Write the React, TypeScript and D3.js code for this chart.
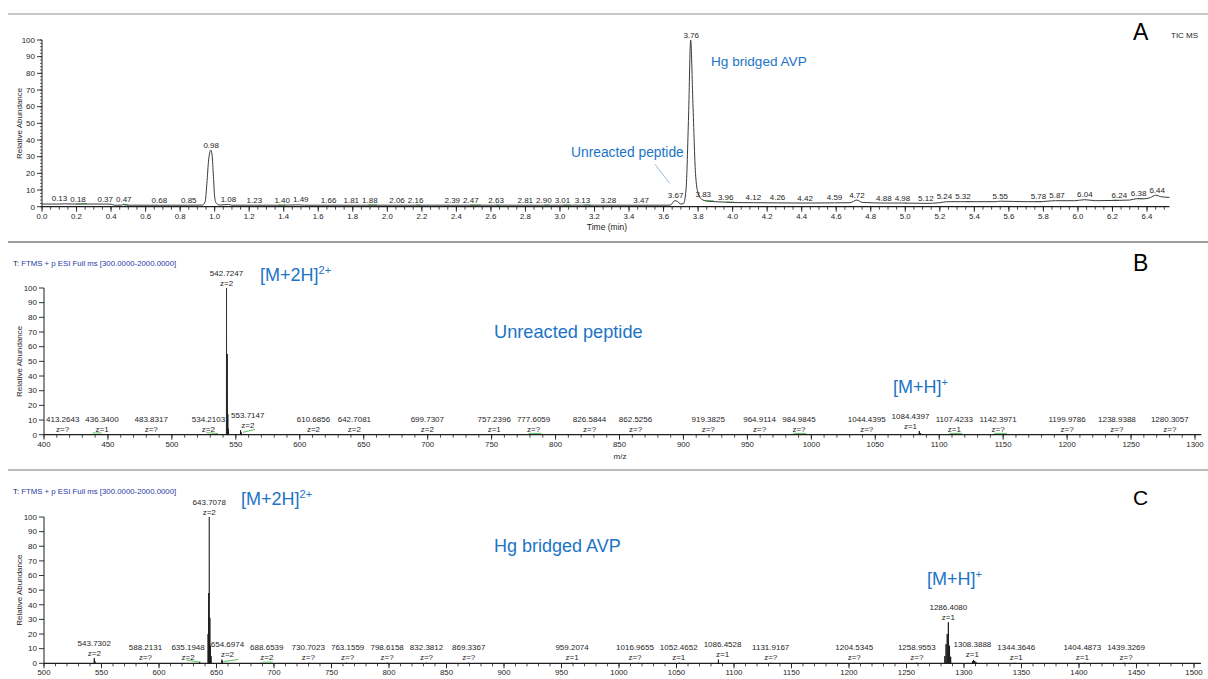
import React from "react";
import * as d3 from "d3";

const FONT = "'Liberation Sans', Arial, Helvetica, sans-serif";
const INK = "#1e1e1e";
const TRACE = "#3a3a3a";
const BLUE = "#1c74c7";
const GREEN = "#5cc05e";
const NAVY = "#2b38a6";

// ---------- Panel A: total ion chromatogram ----------
const ticTrace: [number, number][] = [
  [0.0, 1.6], [0.1, 1.6], [0.13, 1.7], [0.18, 1.6], [0.3, 1.6], [0.37, 1.6], [0.4, 1.5],
  [0.42, 0.9], [0.46, 0.9], [0.47, 1.3], [0.49, 0.9], [0.68, 0.9], [0.85, 0.9], [0.93, 1.0],
  [0.945, 3], [0.955, 14], [0.965, 28], [0.978, 34], [0.985, 31], [0.993, 18], [1.0, 6],
  [1.01, 2], [1.03, 1.0], [1.08, 1.3], [1.1, 0.9], [1.23, 0.9], [1.4, 0.9], [1.49, 1.1],
  [1.52, 0.9], [3.62, 0.9], [3.64, 1.0], [3.665, 3.6], [3.68, 3.2], [3.7, 1.6], [3.715, 1.8],
  [3.73, 10], [3.745, 55], [3.757, 100], [3.77, 62], [3.785, 20], [3.8, 8], [3.82, 4.5],
  [3.85, 3.4], [3.9, 3.0], [3.96, 2.7], [4.0, 2.5], [4.12, 2.4], [4.26, 2.3], [4.42, 2.2],
  [4.59, 2.3], [4.68, 2.4], [4.72, 4.0], [4.75, 2.6], [4.88, 2.2], [4.98, 2.2], [5.12, 2.0],
  [5.2, 2.4], [5.24, 3.0], [5.45, 3.0], [5.52, 3.0], [5.55, 3.3], [5.7, 3.0], [5.78, 3.0],
  [5.82, 3.3], [5.87, 3.6], [5.98, 3.6], [6.04, 4.2], [6.1, 3.6], [6.24, 3.8], [6.3, 4.0],
  [6.34, 4.8], [6.38, 4.7], [6.42, 5.5], [6.45, 6.9], [6.48, 6.0], [6.53, 5.6],
];
const ticPeakRt = [
  "0.13", "0.18", "0.37", "0.47", "0.68", "0.85", "0.98", "1.08", "1.23", "1.40", "1.49",
  "1.66", "1.81", "1.88", "2.06", "2.16", "2.39", "2.47", "2.63", "2.81", "2.90", "3.01",
  "3.13", "3.28", "3.47", "3.67", "3.76", "3.83", "3.96", "4.12", "4.26", "4.42", "4.59",
  "4.72", "4.88", "4.98", "5.12", "5.24", "5.32", "5.55", "5.78", "5.87", "6.04", "6.24",
  "6.38", "6.44",
];
const ticPeakLevel = [
  1.7, 1.6, 1.6, 1.3, 0.9, 0.9, 34, 1.3, 0.9, 0.9, 1.1,
  0.9, 0.9, 1.0, 0.9, 0.9, 0.9, 0.9, 0.9, 0.9, 0.9, 0.9,
  0.9, 0.9, 0.9, 3.6, 100, 4.5, 2.7, 2.4, 2.3, 2.2, 2.3,
  4.0, 2.2, 2.2, 2.0, 3.0, 3.0, 3.3, 3.0, 3.6, 4.2, 3.8,
  4.7, 6.9,
];
// integration baselines [start, end, level]
const ticBaselines: [number, number, number][] = [
  [0.2, 0.26, 1.8], [0.47, 0.5, 1.4], [1.37, 1.41, 1.0], [1.89, 1.94, 1.1], [2.17, 2.19, 1.0],
  [2.48, 2.54, 1.0], [2.63, 2.65, 1.0], [2.91, 2.94, 1.0], [3.02, 3.06, 1.0], [3.14, 3.18, 1.0],
  [3.84, 3.89, 3.6], [3.96, 4.01, 2.8], [5.0, 5.01, 2.2], [5.35, 5.39, 3.1], [5.75, 5.79, 3.1],
  [6.2, 6.24, 3.9], [6.34, 6.38, 4.9],
];
const timeTicks = [
  "0.0", "0.2", "0.4", "0.6", "0.8", "1.0", "1.2", "1.4", "1.6", "1.8", "2.0", "2.2", "2.4",
  "2.6", "2.8", "3.0", "3.2", "3.4", "3.6", "3.8", "4.0", "4.2", "4.4", "4.6", "4.8", "5.0",
  "5.2", "5.4", "5.6", "5.8", "6.0", "6.2", "6.4",
];
const abundanceTicks = [0, 10, 20, 30, 40, 50, 60, 70, 80, 90, 100];

// ---------- Panel B: MS of the unreacted peptide ----------
const specBMz = [
  "413.2643", "436.3400", "483.8317", "534.2103", "542.7247", "553.7147", "610.6856",
  "642.7081", "699.7307", "757.2396", "777.6059", "826.5844", "862.5256", "919.3825",
  "964.9114", "984.9845", "1044.4395", "1084.4397", "1107.4233", "1142.3971", "1199.9786",
  "1238.9388", "1280.3057",
];
const specBCharge = [
  "z=?", "z=1", "z=?", "z=2", "z=2", "z=2", "z=2", "z=2", "z=2", "z=1", "z=?", "z=?",
  "z=?", "z=?", "z=?", "z=?", "z=?", "z=1", "z=1", "z=?", "z=?", "z=?", "z=?",
];
const specBLevel = [
  0.4, 0.4, 0.3, 0.4, 100, 3, 0.4, 0.4, 0.3, 0.3, 0.3, 0.3, 0.3, 0.3, 0.3, 0.3, 0.3, 2.5,
  0.3, 0.3, 0.3, 0.3, 0.3,
];
const specBIsotopes: [number, number][] = [
  [543.22, 55], [543.72, 14], [544.22, 4], [554.21, 1.5], [1085.44, 1.0],
];
const specBBaselines: [number, number, number, number][] = [
  [438, 445, 1.2, 1.2], [527, 536, 1.4, 0.8], [555.5, 565, 1.6, 3.6], [779, 789, 0.9, 0.9],
  [986, 996, 0.9, 0.9], [1108, 1118, 0.9, 0.9], [1143, 1153, 0.9, 0.9],
];
const mzTicksB = [400, 450, 500, 550, 600, 650, 700, 750, 800, 850, 900, 950, 1000, 1050, 1100, 1150, 1200, 1250, 1300];

// ---------- Panel C: MS of the Hg bridged AVP ----------
const specCMz = [
  "543.7302", "588.2131", "635.1948", "643.7078", "654.6974", "688.6539", "730.7023",
  "763.1559", "798.6158", "832.3812", "869.3367", "959.2074", "1016.9655", "1052.4652",
  "1086.4528", "1131.9167", "1204.5345", "1258.9553", "1286.4080", "1308.3888",
  "1344.3646", "1404.4873", "1439.3269",
];
const specCCharge = [
  "z=2", "z=?", "z=2", "z=2", "z=2", "z=2", "z=?", "z=?", "z=?", "z=?", "z=?", "z=1",
  "z=?", "z=1", "z=1", "z=?", "z=?", "z=?", "z=1", "z=1", "z=1", "z=1", "z=?",
];
const specCLevel = [
  3.5, 0.3, 0.8, 100, 2.5, 0.3, 0.3, 0.3, 0.3, 0.3, 0.3, 0.3, 0.3, 0.3, 2.5, 0.3, 0.3,
  0.3, 28, 2.3, 0.3, 0.3, 0.3,
];
const specCIsotopes: [number, number][] = [
  [642.71, 20], [643.21, 48], [644.21, 31], [644.71, 12], [645.21, 5], [544.23, 1.5],
  [655.2, 1.2], [1283.41, 5], [1284.41, 13], [1285.41, 20], [1287.41, 12], [1288.41, 4.5],
  [1307.39, 1.5], [1309.39, 1.5], [1310.39, 0.8],
];
const specCBaselines: [number, number, number, number][] = [
  [624, 637, 2.2, 0.6], [656, 669, 1.2, 2.6], [690, 699, 0.8, 0.8],
];
const mzTicksC = [500, 550, 600, 650, 700, 750, 800, 850, 900, 950, 1000, 1050, 1100, 1150, 1200, 1250, 1300, 1350, 1400, 1450, 1500];

type Lin = d3.ScaleLinear<number, number>;

// Approximate advance widths (em) of the label glyphs in a Helvetica-style face.
const glyphEm: Record<string, number> = { ".": 0.278, z: 0.5, "=": 0.584, "?": 0.556, "-": 0.333 };
const textWidth = (s: string, fs: number) =>
  [...s].reduce((a, c) => a + (glyphEm[c] ?? 0.556), 0) * fs;

// Slide a row of labels sideways so they do not collide, keeping each as close as
// possible to its anchor (isotonic fit), then keep the row inside [lo, hi].
function spreadLabels(anchor: number[], width: number[], gap: number, lo: number, hi: number): number[] {
  const n = anchor.length;
  if (!n) return [];
  const order = d3.range(n).sort((a, b) => anchor[a] - anchor[b]);
  const sp = (i: number) => (width[order[i - 1]] + width[order[i]]) / 2 + gap;
  const s: number[] = [];
  order.forEach((_, i) => { s[i] = i === 0 ? 0 : s[i - 1] + sp(i); });
  const blocks: { sum: number; cnt: number }[] = [];
  order.forEach((k, i) => {
    blocks.push({ sum: anchor[k] - s[i], cnt: 1 });
    while (blocks.length > 1) {
      const b = blocks[blocks.length - 1];
      const a = blocks[blocks.length - 2];
      if (a.sum / a.cnt <= b.sum / b.cnt) break;
      blocks.pop();
      a.sum += b.sum;
      a.cnt += b.cnt;
    }
  });
  const pos: number[] = [];
  let i = 0;
  blocks.forEach((b) => {
    const m = b.sum / b.cnt;
    for (let j = 0; j < b.cnt; j++, i++) pos[i] = m + s[i];
  });
  for (let k = 0; k < n; k++) {
    const min = k === 0 ? lo + width[order[0]] / 2 : pos[k - 1] + sp(k);
    if (pos[k] < min) pos[k] = min;
  }
  for (let k = n - 1; k >= 0; k--) {
    const max = k === n - 1 ? hi - width[order[k]] / 2 : pos[k + 1] - sp(k + 1);
    if (pos[k] > max) pos[k] = max;
  }
  const out: number[] = new Array(n);
  order.forEach((k, idx) => { out[k] = pos[idx]; });
  return out;
}

// Place labels: those near the baseline share one row and are spread apart,
// tall-peak labels stay on their peaks.
function placeLabels(anchor: number[], width: number[], level: number[], gap: number, lo: number, hi: number) {
  const row = d3.range(anchor.length).filter((i) => level[i] < 10);
  const spread = spreadLabels(row.map((i) => anchor[i]), row.map((i) => width[i]), gap, lo, hi);
  const out = anchor.slice();
  row.forEach((i, k) => { out[i] = spread[k]; });
  return out;
}

function XAxis({ x, y, ticks, minorStep, from, to, labelDy }: {
  x: Lin; y: number; ticks: (string | number)[]; minorStep: number; from: number; to: number; labelDy: number;
}) {
  const minor = d3.range(from, to + 1e-9, minorStep);
  return (
    <g>
      <line x1={x(from)} x2={x(to)} y1={y} y2={y} stroke={INK} strokeWidth={1.3} />
      {minor.map((v, i) => (
        <line key={"m" + i} x1={x(v)} x2={x(v)} y1={y} y2={y + 3} stroke={INK} strokeWidth={0.8} />
      ))}
      {ticks.map((t) => (
        <g key={"t" + t}>
          <line x1={x(+t)} x2={x(+t)} y1={y} y2={y + 5} stroke={INK} strokeWidth={0.9} />
          <text x={x(+t)} y={y + labelDy} textAnchor="middle" fontSize={7.8} fill={INK}>{t}</text>
        </g>
      ))}
    </g>
  );
}

function YAxis({ y, x, minorStep }: { y: Lin; x: number; minorStep?: number }) {
  const minor = minorStep ? d3.range(0, 100 + 1e-9, minorStep) : [];
  return (
    <g>
      <line x1={x} x2={x} y1={y(0)} y2={y(100)} stroke={INK} strokeWidth={1} />
      {minor.map((v, i) => (
        <line key={"m" + i} x1={x - 2} x2={x} y1={y(v)} y2={y(v)} stroke={INK} strokeWidth={0.7} />
      ))}
      {abundanceTicks.map((t) => (
        <g key={t}>
          <line x1={x - 5} x2={x} y1={y(t)} y2={y(t)} stroke={INK} strokeWidth={0.9} />
          <text x={x - 7} y={y(t) + 2.8} textAnchor="end" fontSize={8} fill={INK}>{t}</text>
        </g>
      ))}
      <text
        transform={`translate(22,${(y(0) + y(100)) / 2}) rotate(-90)`}
        textAnchor="middle"
        fontSize={8}
        fill={INK}
      >
        Relative Abundance
      </text>
    </g>
  );
}

function Spectrum({ x, y, mz, charge, level, isotopes, baselines, lo, hi }: {
  x: Lin; y: Lin; mz: string[]; charge: string[]; level: number[];
  isotopes: [number, number][]; baselines: [number, number, number, number][]; lo: number; hi: number;
}) {
  const sticks: [number, number][] = [...mz.map((m, i) => [+m, level[i]] as [number, number]), ...isotopes];
  const half = 0.12;
  const widths = mz.map((m, i) => Math.max(textWidth(m, 8), textWidth(charge[i], 8)));
  const lx = placeLabels(mz.map((m) => x(+m)), widths, level, 6, lo, hi);
  return (
    <g>
      {baselines.map(([a, b, l0, l1], i) => (
        <line key={"g" + i} x1={x(a)} x2={x(b)} y1={y(l0)} y2={y(l1)} stroke={GREEN} strokeWidth={1} />
      ))}
      {sticks.map(([m, h], i) => (
        <path
          key={"s" + i}
          d={`M${x(m - half)},${y(0)}L${x(m)},${y(h)}L${x(m + half)},${y(0)}Z`}
          fill={INK}
          stroke={INK}
          strokeWidth={h >= 99 ? 0.7 : 1}
        />
      ))}
      {mz.map((m, i) => {
        const base = y(level[i]) - 2.5;
        return (
          <g key={"l" + i} fontSize={8} fill={INK} textAnchor="middle">
            <text x={lx[i]} y={base - 10}>{m}</text>
            <text x={lx[i]} y={base}>{charge[i]}</text>
          </g>
        );
      })}
    </g>
  );
}

function Header({ y }: { y: number }) {
  return (
    <text x={13} y={y} fontSize={7.8} fill={NAVY}>
      <tspan fill="#20206a">T: </tspan>FTMS + p ESI Full ms [300.0000-2000.0000]
    </text>
  );
}

export default function App() {
  // Panel A scales
  const xA = d3.scaleLinear().domain([0, 6.4]).range([42, 1147]);
  const yA = d3.scaleLinear().domain([0, 100]).range([206.7, 40]);
  const ticLine = d3
    .line<[number, number]>()
    .x((d) => xA(d[0]))
    .y((d) => yA(d[1]))
    .curve(d3.curveMonotoneX)(ticTrace) as string;
  const rtX = placeLabels(
    ticPeakRt.map((rt) => xA(+rt)),
    ticPeakRt.map((rt) => textWidth(rt, 8)),
    ticPeakLevel,
    3,
    45,
    1165
  );

  // Panel B scales
  const xB = d3.scaleLinear().domain([400, 1300]).range([44, 1195]);
  const yB = d3.scaleLinear().domain([0, 100]).range([434.7, 288]);

  // Panel C scales
  const xC = d3.scaleLinear().domain([500, 1500]).range([44, 1194]);
  const yC = d3.scaleLinear().domain([0, 100]).range([663.3, 517]);

  return (
    <svg
      width={1208}
      height={679}
      style={{ position: "absolute", left: 0, top: 0, background: "#fff" }}
      fontFamily={FONT}
    >
      <rect width={1208} height={679} fill="#fff" />

      {/* ---------- A ---------- */}
      <line x1={8} x2={1208} y1={14} y2={14} stroke="#b4b4b4" strokeWidth={1.6} />
      <YAxis y={yA} x={42} minorStep={2} />
      <XAxis x={xA} y={yA(0)} ticks={timeTicks} minorStep={0.05} from={0} to={6.53} labelDy={12.5} />
      <text x={607} y={230} textAnchor="middle" fontSize={8.5} fill={INK}>Time (min)</text>
      {ticBaselines.map(([a, b, l], i) => (
        <line key={"ga" + i} x1={xA(a)} x2={xA(b)} y1={yA(l)} y2={yA(l)} stroke={GREEN} strokeWidth={1} />
      ))}
      <path d={ticLine} fill="none" stroke={TRACE} strokeWidth={1} />
      {ticPeakRt.map((rt, i) => (
        <text key={rt} x={rtX[i]} y={yA(ticPeakLevel[i]) - 2.5} textAnchor="middle" fontSize={8} fill={INK}>
          {rt}
        </text>
      ))}
      <line x1={xA(3.55)} y1={yA(25.5)} x2={xA(3.635)} y2={yA(14)} stroke="#8fb0d8" strokeWidth={0.9} />
      <text x={571} y={157} fontSize={13.8} fill={BLUE}>Unreacted peptide</text>
      <text x={711} y={66} fontSize={13.6} fill={BLUE}>Hg bridged AVP</text>
      <text x={1133} y={39.5} fontSize={23} fill="#000">A</text>
      <text x={1171} y={37.5} fontSize={8} fill={INK}>TIC MS</text>

      {/* ---------- B ---------- */}
      <line x1={8} x2={1208} y1={242} y2={242} stroke="#3c3c3c" strokeWidth={1.2} />
      <Header y={266} />
      <YAxis y={yB} x={44} />
      <XAxis x={xB} y={yB(0)} ticks={mzTicksB} minorStep={10} from={400} to={1305} labelDy={12.5} />
      <text x={620} y={459} textAnchor="middle" fontSize={8} fill={INK}>m/z</text>
      <Spectrum x={xB} y={yB} mz={specBMz} charge={specBCharge} level={specBLevel}
        isotopes={specBIsotopes} baselines={specBBaselines} lo={46} hi={1200} />
      <text x={260} y={281} fontSize={18} fill={BLUE}>
        [M+2H]<tspan fontSize={11} dy={-7}>2+</tspan>
      </text>
      <text x={494} y={338} fontSize={18.2} fill={BLUE}>Unreacted peptide</text>
      <text x={893} y={393} fontSize={18} fill={BLUE}>
        [M+H]<tspan fontSize={11} dy={-7}>+</tspan>
      </text>
      <text x={1133} y={271} fontSize={23} fill="#000">B</text>

      {/* ---------- C ---------- */}
      <line x1={8} x2={1208} y1={470} y2={470} stroke="#a4a4a4" strokeWidth={1.5} />
      <Header y={494} />
      <YAxis y={yC} x={44} />
      <XAxis x={xC} y={yC(0)} ticks={mzTicksC} minorStep={10} from={500} to={1506} labelDy={12} />
      <Spectrum x={xC} y={yC} mz={specCMz} charge={specCCharge} level={specCLevel}
        isotopes={specCIsotopes} baselines={specCBaselines} lo={46} hi={1200} />
      <text x={241} y={505} fontSize={18} fill={BLUE}>
        [M+2H]<tspan fontSize={11} dy={-7}>2+</tspan>
      </text>
      <text x={494} y={552} fontSize={18} fill={BLUE}>Hg bridged AVP</text>
      <text x={927} y={585} fontSize={18} fill={BLUE}>
        [M+H]<tspan fontSize={11} dy={-7}>+</tspan>
      </text>
      <text x={1133} y={505} fontSize={21} fill="#000">C</text>
    </svg>
  );
}
